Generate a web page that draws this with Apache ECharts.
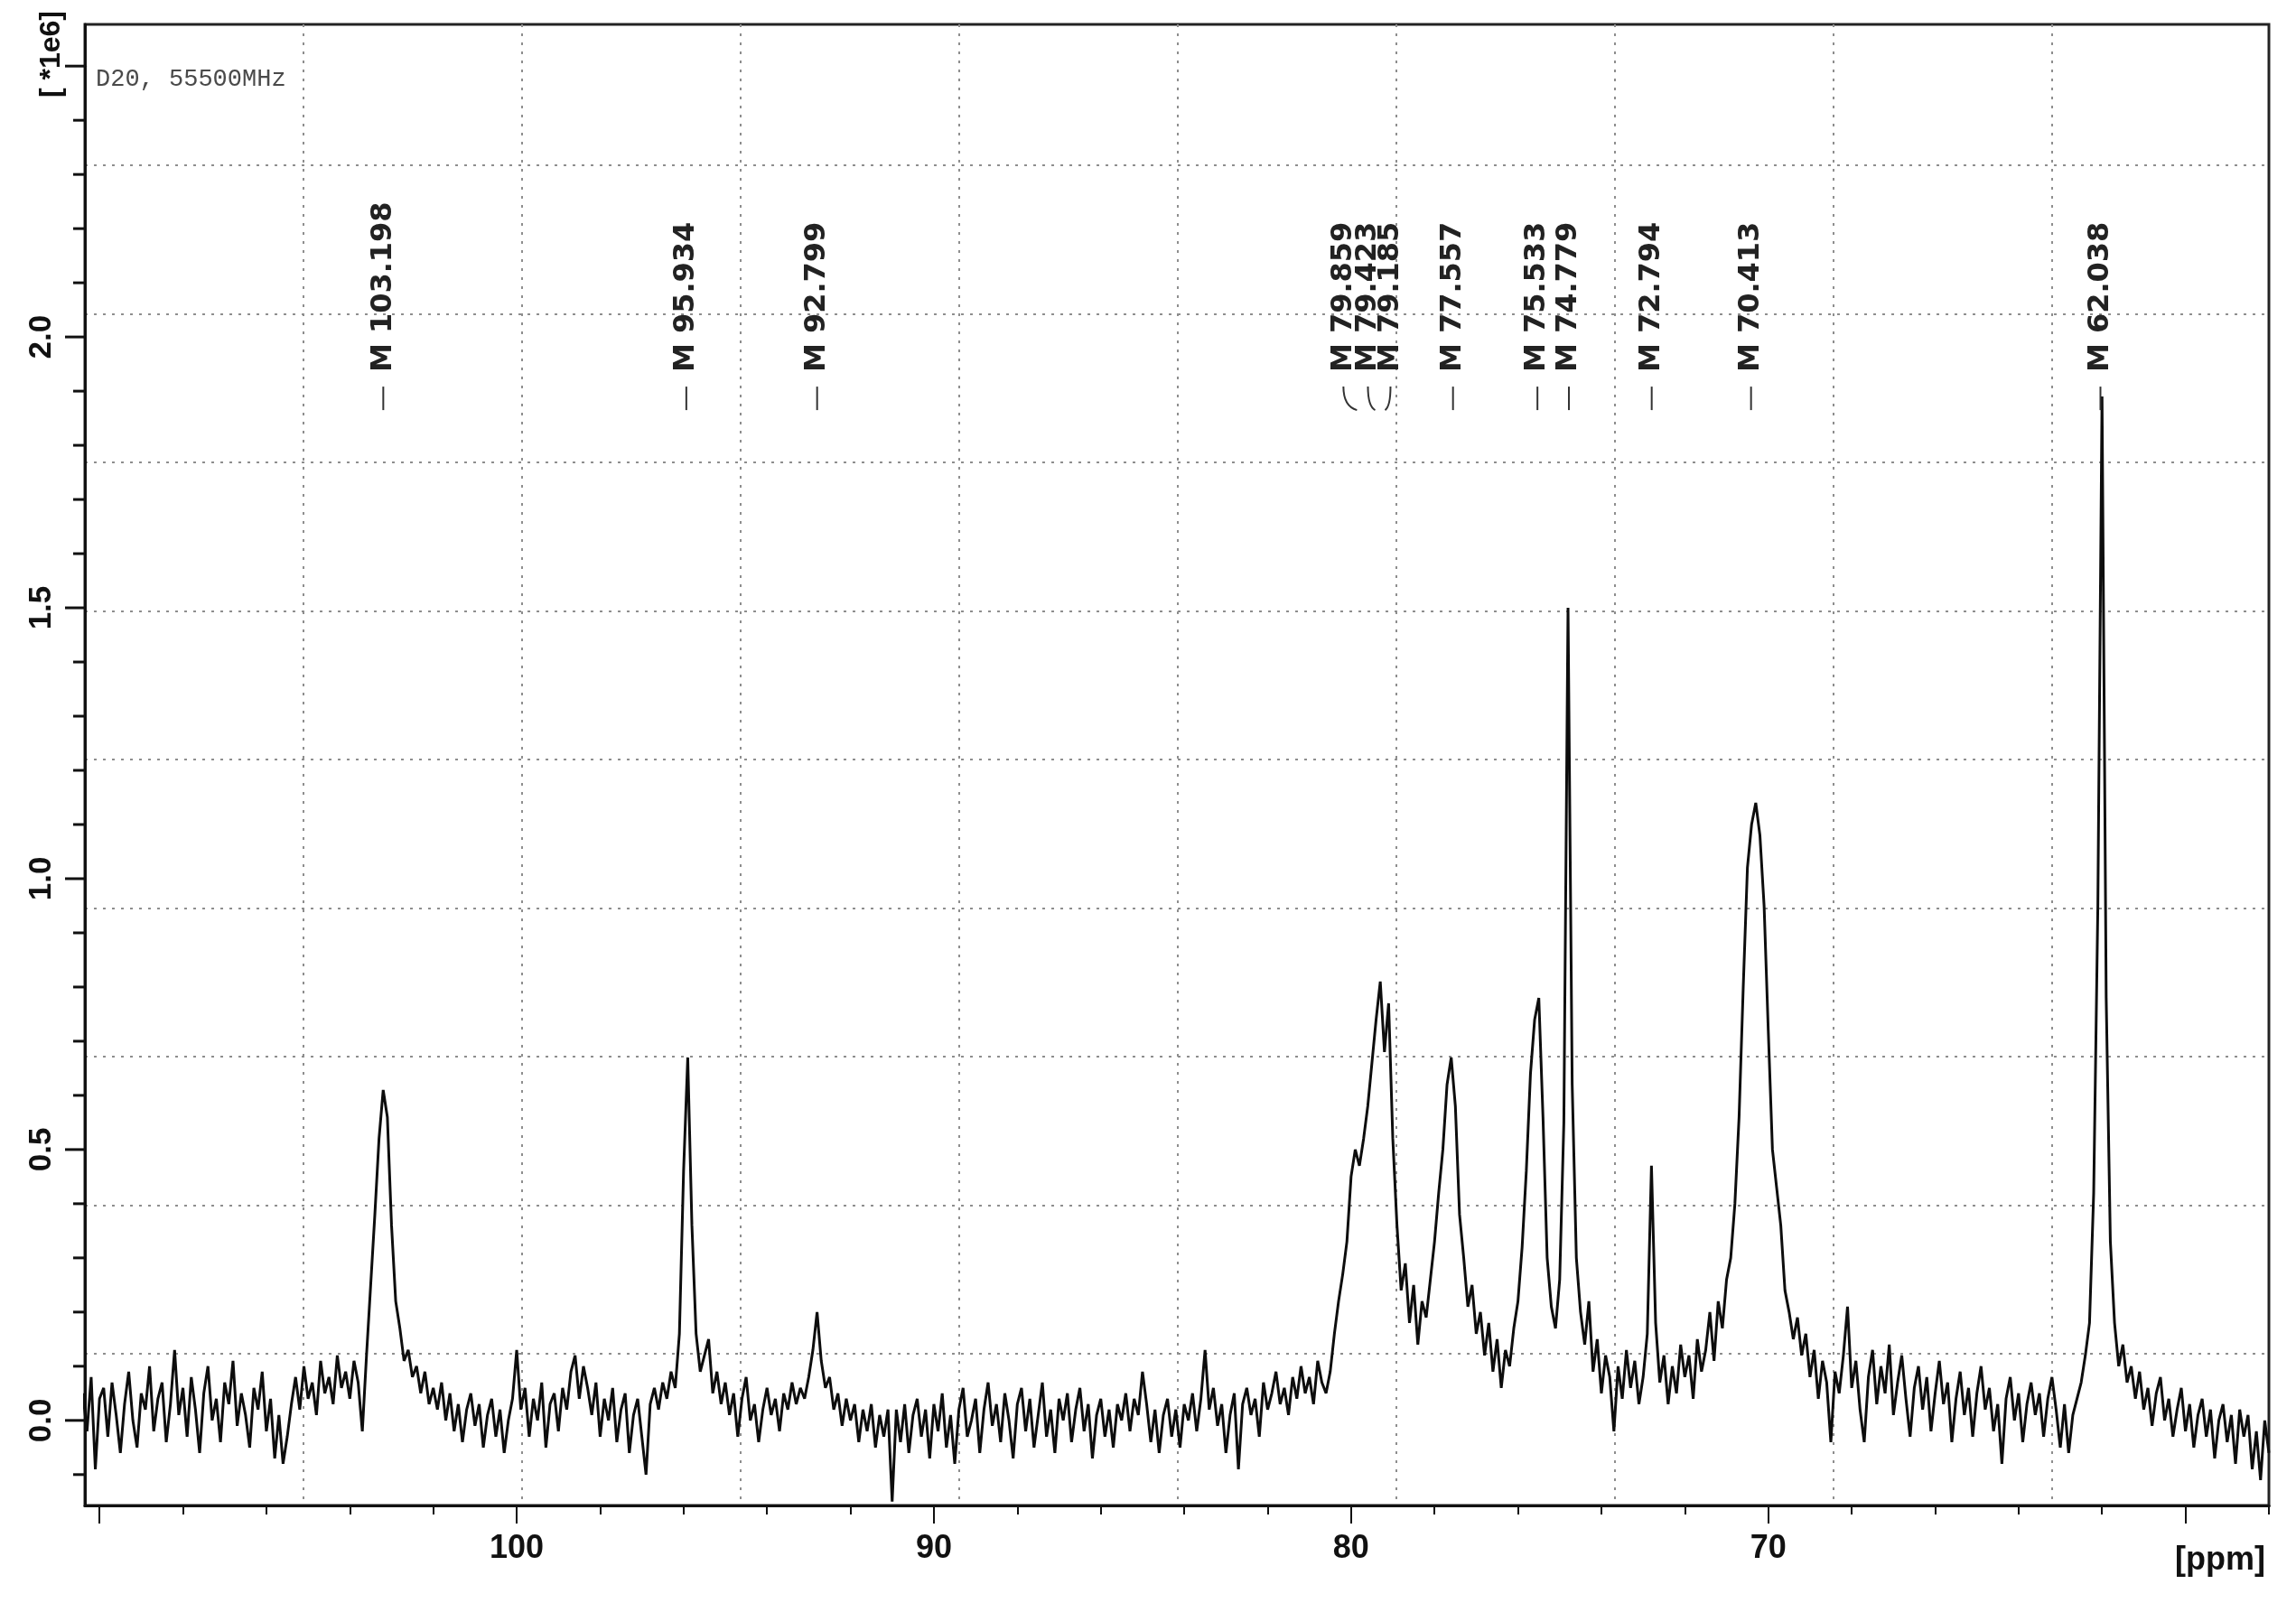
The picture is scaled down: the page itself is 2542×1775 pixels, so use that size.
<!DOCTYPE html>
<html><head><meta charset="utf-8">
<script src="https://cdn.jsdelivr.net/npm/echarts@6/dist/echarts.min.js"></script>
<style>html,body{margin:0;padding:0;background:#fff}#c{width:2542px;height:1775px}</style>
</head><body><div id="c"></div>
<script>
// ---- DATA (intensity in units of 1e6, sampled every 0.1 ppm) ----
const PPM_STEP = 0.1;
const segStarts = [110.4, 100.0, 90.0, 80.0, 70.0];
const seg110to100 = [
 0.05,-0.02,0.08,-0.09,0.04,0.06,-0.03,0.07,0.01,-0.06,
 0.03,0.09,0.00,-0.05,0.05,0.02,0.10,-0.02,0.04,0.07,
 -0.04,0.03,0.13,0.01,0.06,-0.03,0.08,0.02,-0.06,0.05,
 0.10,0.00,0.04,-0.04,0.07,0.03,0.11,-0.01,0.05,0.01,
 -0.05,0.06,0.02,0.09,-0.02,0.04,-0.07,0.01,-0.08,-0.03,
 0.03,0.08,0.02,0.10,0.04,0.07,0.01,0.11,0.05,0.08,
 0.03,0.12,0.06,0.09,0.04,0.11,0.07,-0.02,0.12,0.25,
 0.38,0.52,0.61,0.56,0.36,0.22,0.17,0.11,0.13,0.08,
 0.10,0.05,0.09,0.03,0.06,0.02,0.07,0.00,0.05,-0.02,
 0.03,-0.04,0.02,0.05,-0.01,0.03,-0.05,0.01,0.04,-0.03,
 0.02,-0.06,0.00,0.04];
const seg100to90 = [
 0.13,0.02,0.06,-0.03,0.04,0.00,0.07,-0.05,0.03,0.05,
 -0.02,0.06,0.02,0.09,0.12,0.04,0.10,0.06,0.01,0.07,
 -0.03,0.04,0.00,0.06,-0.04,0.02,0.05,-0.06,0.01,0.04,
 -0.03,-0.10,0.03,0.06,0.02,0.07,0.04,0.09,0.06,0.16,
 0.46,0.67,0.36,0.16,0.09,0.12,0.15,0.05,0.09,0.03,
 0.07,0.01,0.05,-0.03,0.04,0.08,0.00,0.03,-0.04,0.02,
 0.06,0.01,0.04,-0.02,0.05,0.02,0.07,0.03,0.06,0.04,
 0.08,0.13,0.20,0.11,0.06,0.08,0.02,0.05,-0.01,0.04,
 0.00,0.03,-0.04,0.02,-0.02,0.03,-0.05,0.01,-0.03,0.02,
 -0.15,0.02,-0.04,0.03,-0.06,0.01,0.04,-0.03,0.02,-0.07];
const seg90to80 = [
 0.03,-0.02,0.05,-0.05,0.01,-0.08,0.02,0.06,-0.03,0.00,
 0.04,-0.06,0.02,0.07,-0.01,0.03,-0.04,0.05,0.00,-0.07,
 0.03,0.06,-0.02,0.04,-0.05,0.01,0.07,-0.03,0.02,-0.06,
 0.04,0.00,0.05,-0.04,0.02,0.06,-0.02,0.03,-0.07,0.01,
 0.04,-0.03,0.02,-0.05,0.03,0.00,0.05,-0.02,0.04,0.01,
 0.09,0.03,-0.04,0.02,-0.06,0.01,0.04,-0.03,0.02,-0.05,
 0.03,0.00,0.05,-0.02,0.04,0.13,0.02,0.06,-0.01,0.03,
 -0.06,0.01,0.05,-0.09,0.03,0.06,0.01,0.04,-0.03,0.07,
 0.02,0.05,0.09,0.03,0.06,0.01,0.08,0.04,0.10,0.05,
 0.08,0.03,0.11,0.07,0.05,0.09,0.16,0.22,0.27,0.33];
const seg80to70 = [
 0.45,0.50,0.47,0.52,0.58,0.66,0.74,0.81,0.68,0.77,
 0.52,0.36,0.24,0.29,0.18,0.25,0.14,0.22,0.19,0.26,
 0.33,0.42,0.50,0.62,0.67,0.58,0.38,0.30,0.21,0.25,
 0.16,0.20,0.12,0.18,0.09,0.15,0.06,0.13,0.10,0.17,
 0.22,0.32,0.46,0.64,0.74,0.78,0.56,0.30,0.21,0.17,
 0.26,0.55,1.50,0.62,0.30,0.20,0.14,0.22,0.09,0.15,
 0.05,0.12,0.08,-0.02,0.10,0.04,0.13,0.06,0.11,0.03,
 0.08,0.16,0.47,0.18,0.07,0.12,0.03,0.10,0.05,0.14,
 0.08,0.12,0.04,0.15,0.09,0.13,0.20,0.11,0.22,0.17,
 0.26,0.30,0.40,0.56,0.80,1.02,1.10,1.14,1.08,0.95];
const seg70to58 = [
 0.72,0.50,0.43,0.36,0.24,0.20,0.15,0.19,0.12,0.16,
 0.08,0.13,0.04,0.11,0.07,-0.04,0.09,0.05,0.12,0.21,
 0.06,0.11,0.02,-0.04,0.08,0.13,0.03,0.10,0.05,0.14,
 0.01,0.07,0.12,0.04,-0.03,0.06,0.10,0.02,0.08,-0.02,
 0.05,0.11,0.03,0.07,-0.04,0.04,0.09,0.01,0.06,-0.03,
 0.05,0.10,0.02,0.06,-0.02,0.03,-0.08,0.04,0.08,0.00,
 0.05,-0.04,0.03,0.07,0.01,0.05,-0.03,0.04,0.08,0.02,
 -0.05,0.03,-0.06,0.01,0.04,0.07,0.12,0.18,0.42,0.95,
 1.89,0.78,0.33,0.18,0.10,0.14,0.07,0.10,0.04,0.09,
 0.02,0.06,-0.01,0.05,0.08,0.00,0.04,-0.03,0.02,0.06,
 -0.02,0.03,-0.05,0.01,0.04,-0.03,0.02,-0.07,0.00,0.03,
 -0.04,0.01,-0.08,0.02,-0.03,0.01,-0.09,-0.02,-0.11,0.00,
 -0.06];
const segments = [seg110to100, seg100to90, seg90to80, seg80to70, seg70to58];

const peakPpm = [103.198, 95.934, 92.799, 79.859, 79.423, 79.185, 77.557, 75.533, 74.779, 72.794, 70.413, 62.038];
// axis tick ranges: [first, last, step]
const xMajorTickRange = [60, 110, 10];
const xTickLabels = [100, 90, 80, 70];
const xMinorTickRange = [58, 110, 2];
const yMajorTickRange = [0, 2.5, 0.5];
const yTickLabels = [0, 0.5, 1.0, 1.5, 2.0];
const yMinorTickRange = [-0.1, 2.5, 0.1];
const infoText = 'D20, 55500MHz';
const yUnitText = '[ *1e6]';
const xUnitText = '[ppm]';

// ---- build series data ----
const spectrum = [];
segments.forEach((vals, s) => {
  vals.forEach((v, i) => spectrum.push([+(segStarts[s] - i * PPM_STEP).toFixed(2), v]));
});
const tickValues = r => {
  const out = [];
  for (let k = 0; r[0] + k * r[2] <= r[1] + 1e-9; k++) out.push(+(r[0] + k * r[2]).toFixed(4));
  return out;
};

// ---- layout ----
const W = 2542, H = 1775;
const L = 94, R = 30, T = 27, B = 108;
const PW = W - L - R, PH = H - T - B;
const X_MIN = 58.0, X_MAX = 110.35, Y_MIN = -0.157, Y_MAX = 2.577;
const px = v => L + (X_MAX - v) / (X_MAX - X_MIN) * PW;   // inverse ppm axis
const py = v => T + (Y_MAX - v) / (Y_MAX - Y_MIN) * PH;
const dotted = {color: '#8e8e8e', width: 2, type: [3, 7]};
const tickStyle = {color: '#111', width: 2};
const axisLn = () => ({show: true, onZero: false, lineStyle: {color: '#111', width: 3}});
const fmtY = v => yTickLabels.some(t => Math.abs(t - v) < 1e-6) ? v.toFixed(1) : '';
const fmtX = v => xTickLabels.some(t => Math.abs(t - v) < 1e-6) ? String(Math.round(v)) : '';
const hidden = (gi) => ({gridIndex: gi, type: 'value', show: false, min: 0, max: 1});

const grids = [
  {left: L, right: R, top: T, bottom: B, show: true, borderColor: '#222', borderWidth: 3}, // 0 data
  {left: 336, width: 1936, top: T, bottom: B},                                          // 1 paper verticals
  {left: L, right: R, top: 183, height: 1316},                                           // 2 paper horizontals
  {left: L, right: R, top: py(yMajorTickRange[1]), height: py(yMajorTickRange[0]) - py(yMajorTickRange[1])}, // 3 y labels
  {left: px(xMinorTickRange[1]), width: px(xMinorTickRange[0]) - px(xMinorTickRange[1]), top: T, bottom: B}, // 4 x minor
  {left: px(xMajorTickRange[1]), width: px(xMajorTickRange[0]) - px(xMajorTickRange[1]), top: T, bottom: B}  // 5 x major
];

const chart = echarts.init(document.getElementById('c'), null, {width: W, height: H});
chart.setOption({
  animation: false,
  backgroundColor: '#ffffff',
  grid: grids,
  xAxis: [
    {gridIndex: 0, type: 'value', position: 'bottom', inverse: true, min: X_MIN, max: X_MAX,
     axisLine: axisLn(), axisTick: {show: false}, axisLabel: {show: false}, splitLine: {show: false}},
    {gridIndex: 1, type: 'value', position: 'bottom', min: 0, max: 8, interval: 1,
     axisLine: {show: false, onZero: false}, axisTick: {show: false}, axisLabel: {show: false},
     splitLine: {show: true, lineStyle: dotted}},
    hidden(2), hidden(3),
    {gridIndex: 4, type: 'value', position: 'bottom', inverse: true,
     min: xMinorTickRange[0], max: xMinorTickRange[1], interval: xMinorTickRange[2],
     axisLine: axisLn(), axisTick: {show: true, length: 10, lineStyle: tickStyle},
     axisLabel: {show: false}, splitLine: {show: false}},
    {gridIndex: 5, type: 'value', position: 'bottom', inverse: true,
     min: xMajorTickRange[0], max: xMajorTickRange[1], interval: xMajorTickRange[2],
     axisLine: axisLn(), axisTick: {show: true, length: 20, lineStyle: tickStyle},
     axisLabel: {show: true, formatter: fmtX, margin: 30, color: '#111', fontSize: 36, fontWeight: 'bold',
                 fontFamily: 'Liberation Sans, Arial, sans-serif', showMinLabel: true, showMaxLabel: true},
     splitLine: {show: false}}
  ],
  yAxis: [
    {gridIndex: 0, type: 'value', position: 'left', min: Y_MIN, max: Y_MAX,
     axisLine: axisLn(), axisTick: {show: false}, axisLabel: {show: false}, splitLine: {show: false}},
    hidden(1),
    {gridIndex: 2, type: 'value', position: 'left', min: 0, max: 8, interval: 1, inverse: true,
     axisLine: {show: false, onZero: false}, axisTick: {show: false}, axisLabel: {show: false},
     splitLine: {show: true, lineStyle: dotted}},
    {gridIndex: 3, type: 'value', position: 'left',
     min: yMajorTickRange[0], max: yMajorTickRange[1], interval: yMajorTickRange[2],
     axisLine: axisLn(), axisTick: {show: false},
     axisLabel: {show: true, formatter: fmtY, rotate: 90, margin: 30, color: '#111', fontSize: 35, fontWeight: 'bold',
                 fontFamily: 'Liberation Sans, Arial, sans-serif', showMinLabel: true, showMaxLabel: true},
     splitLine: {show: false}},
    hidden(4), hidden(5)
  ],
  series: [{
    type: 'line', xAxisIndex: 0, yAxisIndex: 0, data: spectrum,
    showSymbol: false, symbol: 'none', clip: true, z: 5,
    lineStyle: {color: '#0d0d0d', width: 3}
  }]
});

// ---- y ticks and peak annotations, placed through the data axes' own scales ----
const toPx = (x, y) => chart.convertToPixel({xAxisIndex: 0, yAxisIndex: 0}, [x, y]);
const graphics = [
  {type: 'text', x: 57, y: 60, rotation: Math.PI / 2, z: 20,
   style: {text: yUnitText, fill: '#111', font: 'bold 32px "Liberation Sans", Arial, sans-serif', align: 'center', verticalAlign: 'middle'}},
  {type: 'text', x: 106, y: 88, z: 20,
   style: {text: infoText, fill: '#4a4a4a', font: '27px "Liberation Mono", "DejaVu Sans Mono", monospace', align: 'left', verticalAlign: 'middle'}},
  {type: 'text', x: 2508, y: 1728, z: 20,
   style: {text: xUnitText, fill: '#111', font: 'bold 36px "Liberation Sans", Arial, sans-serif', align: 'right', verticalAlign: 'middle'}}
];
const majorY = tickValues(yMajorTickRange);
tickValues(yMinorTickRange).forEach(v => {
  const p = toPx(X_MAX, v);
  const isMajor = majorY.some(m => Math.abs(m - v) < 1e-6);
  const len = isMajor ? 22 : 13;
  graphics.push({type: 'rect', z: 30, silent: true,
                 shape: {x: p[0] - len, y: p[1] - 1.5, width: len, height: 3},
                 style: {fill: '#111'}});
});
const LABEL_BASE = 1.865;
const labelOffsets = {3: -15, 4: -8, 5: 6};
peakPpm.forEach((p, i) => {
  const pt = toPx(p, LABEL_BASE);
  const lx = pt[0] + (labelOffsets[i] || 0);
  const y0 = pt[1];
  if (labelOffsets[i] !== undefined) {
    graphics.push({type: 'bezierCurve', z: 20,
      shape: {x1: pt[0], y1: y0, x2: lx, y2: y0 - 26, cpx1: lx, cpy1: y0 - 4},
      style: {stroke: '#333', lineWidth: 2, fill: null}});
  } else {
    graphics.push({type: 'line', z: 20,
      shape: {x1: lx, y1: y0, x2: lx, y2: y0 - 26},
      style: {stroke: '#333', lineWidth: 2}});
  }
  graphics.push({type: 'text', x: lx, y: y0 - 42, rotation: Math.PI / 2, z: 20,
    style: {text: 'M ' + p.toFixed(3), fill: '#222', font: 'bold 32px "DejaVu Sans", sans-serif',
            align: 'left', verticalAlign: 'middle'}});
});
chart.setOption({graphic: graphics});
</script>
</body></html>
